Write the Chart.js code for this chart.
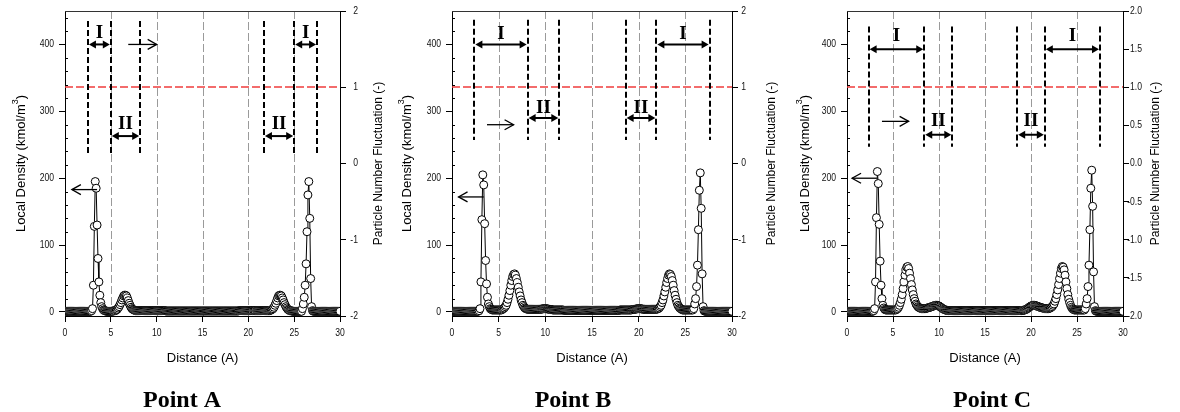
<!DOCTYPE html>
<html>
<head>
<meta charset="utf-8">
<script src="https://cdn.jsdelivr.net/npm/chart.js@4.4.1/dist/chart.umd.min.js"></script>
<style>
  html, body { margin: 0; padding: 0; background: #fff; }
  body { width: 1180px; height: 412px; position: relative; overflow: hidden; }
  .panel { position: absolute; top: 0; height: 412px; }
</style>
</head>
<body>
<div class="panel" style="left:0;width:395px"><canvas id="chartA"></canvas></div>
<div class="panel" style="left:390px;width:395px"><canvas id="chartB"></canvas></div>
<div class="panel" style="left:780px;width:400px"><canvas id="chartC"></canvas></div>
<script>
// axis ticks
const distanceTicks = [0, 5, 10, 15, 20, 25, 30];
const densityTicks = [0, 100, 200, 300, 400];
const densityMinorStep = 20;
const fluctTicksAB = [-2, -1, 0, 1, 2];
const fluctTicksC = [-2, -1.5, -1, -0.5, 0, 0.5, 1, 1.5, 2];
const gridDistances = [5, 10, 15, 20, 25];
const fluctReference = 1;
const distanceStep = 0.1; // density profile sampled every 0.1 A from 0 to 30

// local density (kmol/m3), one row per angstrom
const densityA = [
  1, 1, 1, 1, 1, 1, 1, 1, 1, 1,
  1, 1, 1, 1, 1, 1, 1, 1, 1, 1,
  1, 1, 1, 1, 1, 1, 1, 1, 1, 2,
  5, 40, 128, 195, 185, 130, 80, 45, 25, 14,
  8, 5, 3, 2, 2, 1, 1, 1, 1, 1,
  1, 1, 1, 2, 2, 2, 3, 4, 6, 8,
  11, 14, 18, 21, 24, 25, 25, 24, 21, 17,
  13, 10, 7, 5, 4, 3, 2.5, 2, 2, 2,
  2, 2, 2, 2, 2, 2, 2, 2, 2, 2,
  2, 2, 2, 2, 2, 2, 2, 2, 2, 2,
  2, 2, 2, 2, 2, 2, 2, 2, 2, 2,
  1.5, 1.5, 1.5, 1.5, 1.5, 1.5, 1.5, 1.5, 1.5, 1.5,
  1.5, 1.5, 1.5, 1.5, 1.5, 1.5, 1.5, 1.5, 1.5, 1.5,
  1.5, 1.5, 1.5, 1.5, 1.5, 1.5, 1.5, 1.5, 1.5, 1.5,
  1.5, 1.5, 1.5, 1.5, 1.5, 1.5, 1.5, 1.5, 1.5, 1.5,
  1.5, 1.5, 1.5, 1.5, 1.5, 1.5, 1.5, 1.5, 1.5, 1.5,
  1.5, 1.5, 1.5, 1.5, 1.5, 1.5, 1.5, 1.5, 1.5, 1.5,
  1.5, 1.5, 1.5, 1.5, 1.5, 1.5, 1.5, 1.5, 1.5, 1.5,
  1.5, 1.5, 1.5, 1.5, 1.5, 1.5, 1.5, 1.5, 1.5, 1.5,
  2, 2, 2, 2, 2, 2, 2, 2, 2, 2,
  2, 2, 2, 2, 2, 2, 2, 2, 2, 2,
  2, 2, 2, 2, 2, 2, 2, 2, 2, 2,
  2, 2, 2, 2, 2.5, 3, 4, 5, 7, 10,
  13, 17, 21, 24, 25, 25, 24, 21, 18, 14,
  11, 8, 6, 4, 3, 2, 2, 2, 1, 1,
  1, 1, 1, 1, 1, 1, 1, 1, 1, 5,
  12, 22, 40, 72, 120, 175, 195, 140, 50, 8,
  2, 1, 1, 1, 1, 1, 1, 1, 1, 1,
  1, 1, 1, 1, 1, 1, 1, 1, 1, 1,
  1, 1, 1, 1, 1, 1, 1, 1, 1, 1,
  1
];

const densityB = [
  1, 1, 1, 1, 1, 1, 1, 1, 1, 1,
  1, 1, 1, 1, 1, 1, 1, 1, 1, 1,
  1, 1, 1, 1, 1, 1, 1, 1, 1, 2,
  5, 45, 138, 205, 190, 132, 77, 42, 22, 12,
  8, 5, 4, 3, 3, 3, 3, 3, 3, 3,
  3, 3, 3, 3, 4, 5, 6, 8, 10, 14,
  19, 25, 32, 40, 47, 53, 56, 57, 55, 50,
  44, 37, 30, 24, 18, 14, 10, 8, 6, 5,
  4.5, 4, 4, 4, 4, 4, 4, 4, 4, 4,
  4, 4, 4, 4, 4, 4, 4.5, 4.5, 5, 5,
  5, 5, 4.5, 4.5, 4, 4, 3.5, 3.5, 3, 3,
  3, 3, 3, 3, 3, 3, 3, 3, 3, 3,
  2.5, 2.5, 2.5, 2.5, 2.5, 2.5, 2.5, 2.5, 2.5, 2.5,
  2.5, 2.5, 2.5, 2.5, 2.5, 2.5, 2.5, 2.5, 2.5, 2.5,
  2.5, 2.5, 2.5, 2.5, 2.5, 2.5, 2.5, 2.5, 2.5, 2.5,
  2.5, 2.5, 2.5, 2.5, 2.5, 2.5, 2.5, 2.5, 2.5, 2.5,
  2.5, 2.5, 2.5, 2.5, 2.5, 2.5, 2.5, 2.5, 2.5, 2.5,
  2.5, 2.5, 2.5, 2.5, 2.5, 2.5, 2.5, 2.5, 2.5, 2.5,
  3, 3, 3, 3, 3, 3, 3, 3, 3, 3,
  3, 3, 3, 3.5, 3.5, 4, 4, 4.5, 4.5, 5,
  5, 5, 5, 4.5, 4.5, 4, 4, 4, 4, 4,
  4, 4, 4, 4, 4, 4, 4, 4, 4, 4,
  4.5, 5, 6, 8, 10, 14, 18, 24, 30, 37,
  44, 50, 55, 57, 56, 53, 47, 40, 32, 25,
  19, 14, 10, 8, 6, 5, 4, 3, 3, 3,
  3, 3, 3, 3, 3, 3, 3, 3, 3, 5,
  12, 20, 38, 70, 123, 182, 208, 155, 57, 8,
  2, 1, 1, 1, 1, 1, 1, 1, 1, 1,
  1, 1, 1, 1, 1, 1, 1, 1, 1, 1,
  1, 1, 1, 1, 1, 1, 1, 1, 1, 1,
  1
];

const densityC = [
  1, 1, 1, 1, 1, 1, 1, 1, 1, 1,
  1, 1, 1, 1, 1, 1, 1, 1, 1, 1,
  1, 1, 1, 1, 1, 1, 1, 1, 1, 2,
  5, 45, 141, 210, 192, 131, 76, 40, 20, 10,
  6, 4, 3, 3, 3, 3, 3, 3, 3, 3,
  3, 3, 3, 3, 4, 5, 7, 10, 14, 19,
  26, 35, 45, 55, 63, 67, 68, 65, 58, 50,
  41, 33, 26, 20, 16, 12, 10, 8, 7, 6,
  5.5, 5, 5, 5, 5, 5, 5.5, 6, 6, 6.5,
  7, 7.5, 8, 8.5, 9, 9.5, 10, 10, 10, 9.5,
  9, 8, 7, 6, 5, 4, 3.5, 3, 2.5, 2.5,
  2, 2, 2, 2, 2, 2, 2, 2, 2, 2,
  2, 2, 2, 2, 2, 2, 2, 2, 2, 2,
  2, 2, 2, 2, 2, 2, 2, 2, 2, 2,
  2, 2, 2, 2, 2, 2, 2, 2, 2, 2,
  2, 2, 2, 2, 2, 2, 2, 2, 2, 2,
  2, 2, 2, 2, 2, 2, 2, 2, 2, 2,
  2, 2, 2, 2, 2, 2, 2, 2, 2, 2,
  2, 2, 2, 2, 2, 2, 2, 2, 2, 2,
  2, 2.5, 2.5, 3, 3.5, 4, 5, 6, 7, 8,
  9, 9.5, 10, 10, 10, 9.5, 9, 8.5, 8, 7.5,
  7, 6.5, 6, 6, 5.5, 5, 5, 5, 5, 5,
  5.5, 6, 7, 8, 10, 12, 16, 20, 26, 33,
  41, 50, 58, 65, 68, 67, 63, 55, 45, 35,
  26, 19, 14, 10, 7, 5, 4, 3, 3, 3,
  3, 3, 3, 3, 3, 3, 3, 3, 3, 5,
  12, 20, 38, 70, 123, 185, 212, 158, 60, 8,
  2, 1, 1, 1, 1, 1, 1, 1, 1, 1,
  1, 1, 1, 1, 1, 1, 1, 1, 1, 1,
  1, 1, 1, 1, 1, 1, 1, 1, 1, 1,
  1
];

// black dashed region boundaries (distance) and their extent on the density axis
const boundsA = [2.5, 5.0, 8.2, 21.7, 25.0, 27.5];
const boundsB = [2.4, 8.1, 11.5, 18.6, 21.9, 27.6];
const boundsC = [2.35, 8.4, 11.45, 18.5, 21.5, 27.5];
const boundSpanA = [235, 435];
const boundSpanB = [257, 437];
const boundSpanC = [247, 427];

// region arrows: [from, to, density level, label, label level]
const regionsA = [[2.5, 5.0, 400, 'I', 418], [5.0, 8.2, 263, 'II', 283], [21.7, 25.0, 263, 'II', 283], [25.0, 27.5, 400, 'I', 418]];
const regionsB = [[2.4, 8.1, 400, 'I', 417], [8.1, 11.5, 290, 'II', 306], [18.6, 21.9, 290, 'II', 306], [21.9, 27.6, 400, 'I', 417]];
const regionsC = [[2.35, 8.4, 393, 'I', 414], [8.4, 11.45, 265, 'II', 287], [18.5, 21.5, 265, 'II', 287], [21.5, 27.5, 393, 'I', 414]];

// axis pointers: [from, to, density level]
const pointersA = [[3.5, 0.75, 183], [6.9, 10.0, 400]];
const pointersB = [[3.4, 0.7, 172], [3.75, 6.6, 280]];
const pointersC = [[3.25, 0.55, 200], [3.8, 6.7, 285]];

const SANS = '"Liberation Sans", Arial, sans-serif';
const SERIF = '"Liberation Serif", "Times New Roman", serif';

function strokeLine(ctx, x1, y1, x2, y2) {
    ctx.beginPath();
    ctx.moveTo(x1, y1);
    ctx.lineTo(x2, y2);
    ctx.stroke();
}

function filledHead(ctx, x, y, dir) {
    ctx.beginPath();
    ctx.moveTo(x, y);
    ctx.lineTo(x - dir * 7, y - 4);
    ctx.lineTo(x - dir * 7, y + 4);
    ctx.closePath();
    ctx.fill();
}

// tick labels in the figure are set in a narrow face
function narrowText(ctx, text, x, y) {
    ctx.save();
    ctx.translate(x, y);
    ctx.scale(0.82, 1);
    ctx.fillText(text, 0, 0);
    ctx.restore();
}

// one overlay plugin per panel, so the panel settings stay out of Chart.js option resolution
function makeOverlay(p) {
    return {
        id: 'overlay',
        beforeDatasetsDraw(chart) {
            const {ctx, chartArea: a, scales: {x}} = chart;
            ctx.save();
            ctx.strokeStyle = '#9a9a9a';
            ctx.lineWidth = 1;
            ctx.setLineDash([8, 3]);
            gridDistances.forEach(d => {
                const px = Math.round(x.getPixelForValue(d)) + 0.5;
                strokeLine(ctx, px, a.top, px, a.bottom);
            });
            ctx.restore();
        },
        afterDraw(chart) {
            const {ctx, chartArea: a, scales: {x, y, y2}} = chart;
            ctx.save();

            // top frame line
            ctx.strokeStyle = '#333';
            ctx.lineWidth = 1;
            strokeLine(ctx, a.left, a.top + 0.5, a.right, a.top + 0.5);

            // minor ticks on the density axis, inside the frame
            ctx.strokeStyle = '#000';
            for (let v = densityMinorStep; v < y.max; v += densityMinorStep) {
                if (densityTicks.includes(v)) continue;
                const py = Math.round(y.getPixelForValue(v)) + 0.5;
                strokeLine(ctx, a.left, py, a.left + 3, py);
            }

            // red reference line on the fluctuation axis
            ctx.strokeStyle = 'rgb(240, 60, 60)';
            ctx.lineWidth = 1.5;
            ctx.setLineDash([8, 3]);
            const ry = Math.round(y2.getPixelForValue(fluctReference));
            strokeLine(ctx, a.left, ry, a.right, ry);

            // black dashed region boundaries
            ctx.strokeStyle = '#000';
            ctx.lineWidth = 2;
            ctx.setLineDash([6, 3]);
            p.bounds.forEach(d => {
                const px = Math.round(x.getPixelForValue(d));
                strokeLine(ctx, px, y.getPixelForValue(p.boundSpan[1]), px, y.getPixelForValue(p.boundSpan[0]));
            });
            ctx.setLineDash([]);

            // double-headed region arrows and labels
            ctx.fillStyle = '#000';
            p.regions.forEach(([from, to, level, label, labelLevel]) => {
                const x1 = x.getPixelForValue(from) + 1, x2 = x.getPixelForValue(to) - 1;
                const py = y.getPixelForValue(level);
                ctx.lineWidth = 2;
                strokeLine(ctx, x1 + 5, py, x2 - 5, py);
                filledHead(ctx, x1, py, -1);
                filledHead(ctx, x2, py, 1);
                ctx.font = 'bold 19px ' + SERIF;
                ctx.textAlign = 'center';
                ctx.textBaseline = 'middle';
                ctx.fillText(label, (x1 + x2) / 2, y.getPixelForValue(labelLevel) + 1);
            });

            // single pointers towards the axes
            ctx.lineWidth = 1.3;
            p.pointers.forEach(([from, to, level]) => {
                const x1 = x.getPixelForValue(from), x2 = x.getPixelForValue(to);
                const py = y.getPixelForValue(level);
                const dir = Math.sign(x2 - x1);
                strokeLine(ctx, x1, py, x2, py);
                ctx.beginPath();
                ctx.moveTo(x2 - dir * 9, py - 5);
                ctx.lineTo(x2, py);
                ctx.lineTo(x2 - dir * 9, py + 5);
                ctx.stroke();
            });

            // tick labels
            ctx.fillStyle = '#111';
            ctx.font = '10.5px ' + SANS;
            ctx.textBaseline = 'middle';
            ctx.textAlign = 'right';
            y.ticks.forEach(t => narrowText(ctx, String(t.value), a.left - 11, y.getPixelForValue(t.value)));
            y2.ticks.forEach(t => narrowText(ctx, p.fluctFormat(t.value), a.right + p.rightLabelGap, y2.getPixelForValue(t.value)));
            ctx.textAlign = 'center';
            x.ticks.forEach(t => narrowText(ctx, String(t.value), x.getPixelForValue(t.value), a.bottom + 17));

            // axis titles
            ctx.fillStyle = '#000';
            ctx.font = '13px ' + SANS;
            ctx.fillText('Distance (A)', (a.left + a.right) / 2, a.bottom + 42);

            const midY = (a.top + a.bottom) / 2;
            ctx.save();
            ctx.translate(p.leftTitleX, midY);
            ctx.rotate(-Math.PI / 2);
            const main = 'Local Density (kmol/m', sup = '3', tail = ')';
            ctx.font = '13px ' + SANS;
            const wMain = ctx.measureText(main).width, wTail = ctx.measureText(tail).width;
            ctx.font = '9px ' + SANS;
            const wSup = ctx.measureText(sup).width;
            const tx = -(wMain + wSup + wTail) / 2;
            ctx.textAlign = 'left';
            ctx.font = '13px ' + SANS;
            ctx.fillText(main, tx, 0);
            ctx.font = '9px ' + SANS;
            ctx.fillText(sup, tx + wMain, -5);
            ctx.font = '13px ' + SANS;
            ctx.fillText(tail, tx + wMain + wSup, 0);
            ctx.restore();

            ctx.save();
            ctx.translate(a.right + p.rightTitleGap, midY);
            ctx.rotate(-Math.PI / 2);
            ctx.textAlign = 'center';
            ctx.font = '12px ' + SANS;
            ctx.fillText('Particle Number Fluctuation (-)', 0, 0);
            ctx.restore();

            // panel caption
            ctx.font = 'bold 24px ' + SERIF;
            ctx.textAlign = 'center';
            ctx.textBaseline = 'alphabetic';
            ctx.fillText(p.caption, p.captionX, 407);

            ctx.restore();
        }
    };
}

function makePanel(id, density, p) {
    const points = density.map((v, i) => ({x: Math.round(i * distanceStep * 10) / 10, y: v}));
    const tickGrid = {drawOnChartArea: false, drawTicks: true, tickLength: 6, color: '#000'};
    return new Chart(document.getElementById(id), {
        type: 'line',
        data: {
            datasets: [{
                data: points,
                borderColor: '#000',
                borderWidth: 1,
                pointRadius: 4,
                pointBackgroundColor: '#fff',
                pointBorderColor: '#000',
                pointBorderWidth: 1,
                tension: 0
            }]
        },
        options: {
            responsive: true,
            maintainAspectRatio: false,
            animation: false,
            events: [],
            layout: {padding: {top: 11, left: 0, right: 0, bottom: 0}},
            plugins: {
                legend: {display: false},
                tooltip: {enabled: false}
            },
            scales: {
                x: {
                    type: 'linear',
                    min: 0,
                    max: 30,
                    afterBuildTicks: s => { s.ticks = distanceTicks.map(v => ({value: v})); },
                    afterFit: s => { s.height = 96; },
                    ticks: {display: false},
                    grid: tickGrid,
                    border: {color: '#000', width: 1}
                },
                y: {
                    position: 'left',
                    min: -6,
                    max: 450,
                    afterBuildTicks: s => { s.ticks = densityTicks.map(v => ({value: v})); },
                    afterFit: s => { s.width = p.plotLeft; },
                    ticks: {display: false},
                    grid: tickGrid,
                    border: {color: '#000', width: 1}
                },
                y2: {
                    position: 'right',
                    min: -2,
                    max: 2,
                    afterBuildTicks: s => { s.ticks = p.fluctTicks.map(v => ({value: v})); },
                    afterFit: s => { s.width = p.panelWidth - p.plotRight; },
                    ticks: {display: false},
                    grid: tickGrid,
                    border: {color: '#000', width: 1}
                }
            }
        },
        plugins: [makeOverlay(p)]
    });
}

makePanel('chartA', densityA, {
    panelWidth: 395, plotLeft: 65, plotRight: 340,
    bounds: boundsA, boundSpan: boundSpanA, regions: regionsA, pointers: pointersA,
    fluctTicks: fluctTicksAB, fluctFormat: v => String(v),
    rightLabelGap: 18, leftTitleX: 21, rightTitleGap: 39,
    caption: 'Point A', captionX: 182
});
makePanel('chartB', densityB, {
    panelWidth: 395, plotLeft: 62, plotRight: 342,
    bounds: boundsB, boundSpan: boundSpanB, regions: regionsB, pointers: pointersB,
    fluctTicks: fluctTicksAB, fluctFormat: v => String(v),
    rightLabelGap: 14, leftTitleX: 17, rightTitleGap: 40,
    caption: 'Point B', captionX: 183
});
makePanel('chartC', densityC, {
    panelWidth: 400, plotLeft: 67, plotRight: 343,
    bounds: boundsC, boundSpan: boundSpanC, regions: regionsC, pointers: pointersC,
    fluctTicks: fluctTicksC, fluctFormat: v => v.toFixed(1),
    rightLabelGap: 19, leftTitleX: 25, rightTitleGap: 33,
    caption: 'Point C', captionX: 212
});
</script>
</body>
</html>
